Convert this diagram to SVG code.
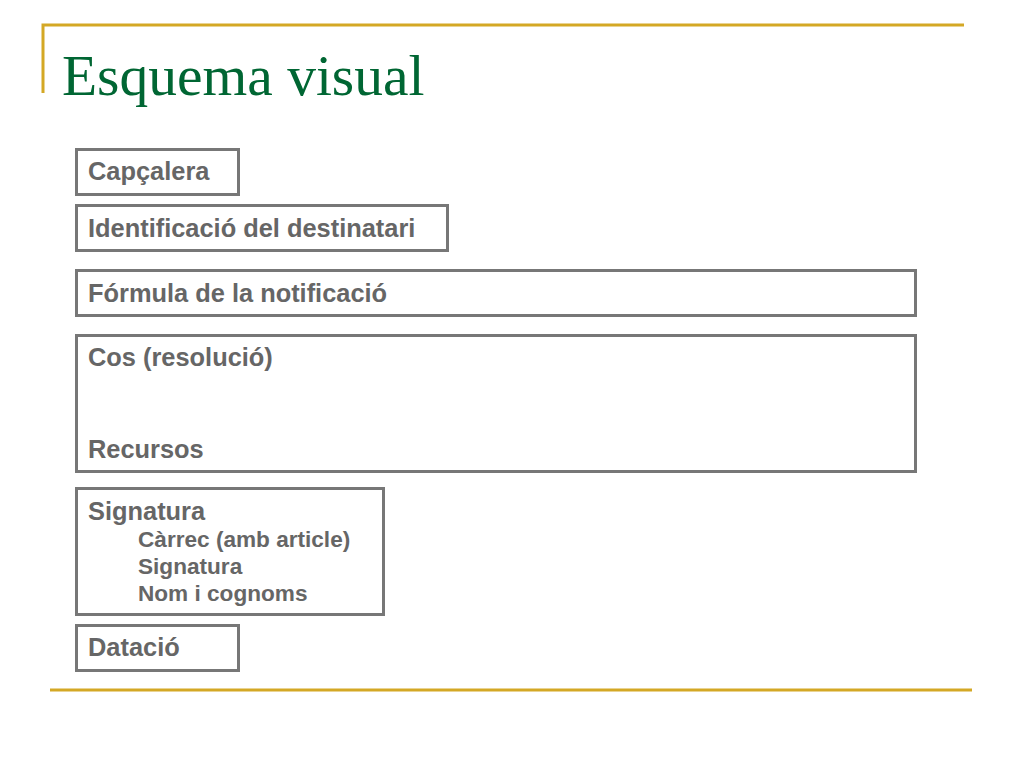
<svg xmlns="http://www.w3.org/2000/svg" width="1024" height="768" viewBox="0 0 1024 768">
<style>
.box{fill:#fff;stroke:#777;stroke-width:3}
.t{font-family:"Liberation Sans",Arial,sans-serif;font-weight:bold;font-size:25.4px;fill:#666}
.s{font-family:"Liberation Sans",Arial,sans-serif;font-weight:bold;font-size:22.6px;fill:#666}
.rule{stroke:#D4A825;stroke-width:3;fill:none}
</style>
<rect width="1024" height="768" fill="#fff"/>
<path class="rule" d="M43 93 V25 H964"/>
<line class="rule" x1="50" y1="690" x2="972" y2="690"/>
<text x="62" y="95" font-family="'Liberation Serif','Times New Roman',serif" font-size="57.5" fill="#006633">Esquema visual</text>
<g id="capcalera"><rect class="box" x="76.500" y="149.500" width="162" height="45"/><text class="t" x="88" y="180">Capçalera</text></g>
<g id="identificacio"><rect class="box" x="76.500" y="205.500" width="371" height="45"/><text class="t" x="88" y="237">Identificació del destinatari</text></g>
<g id="formula"><rect class="box" x="76.500" y="270.500" width="839" height="45"/><text class="t" x="88" y="302">Fórmula de la notificació</text></g>
<g id="cos"><rect class="box" x="76.500" y="335.500" width="839" height="136"/><text class="t" x="88" y="366">Cos (resolució)</text><text class="t" x="88" y="458">Recursos</text></g>
<g id="signatura"><rect class="box" x="76.500" y="488.500" width="307" height="126"/><text class="t" x="88" y="520">Signatura</text><text class="s" x="138" y="547">Càrrec (amb article)</text><text class="s" x="138" y="574">Signatura</text><text class="s" x="138" y="601">Nom i cognoms</text></g>
<g id="datacio"><rect class="box" x="76.500" y="625.500" width="162" height="45"/><text class="t" x="88" y="656">Datació</text></g>
<g id="connectors"></g>
</svg>
